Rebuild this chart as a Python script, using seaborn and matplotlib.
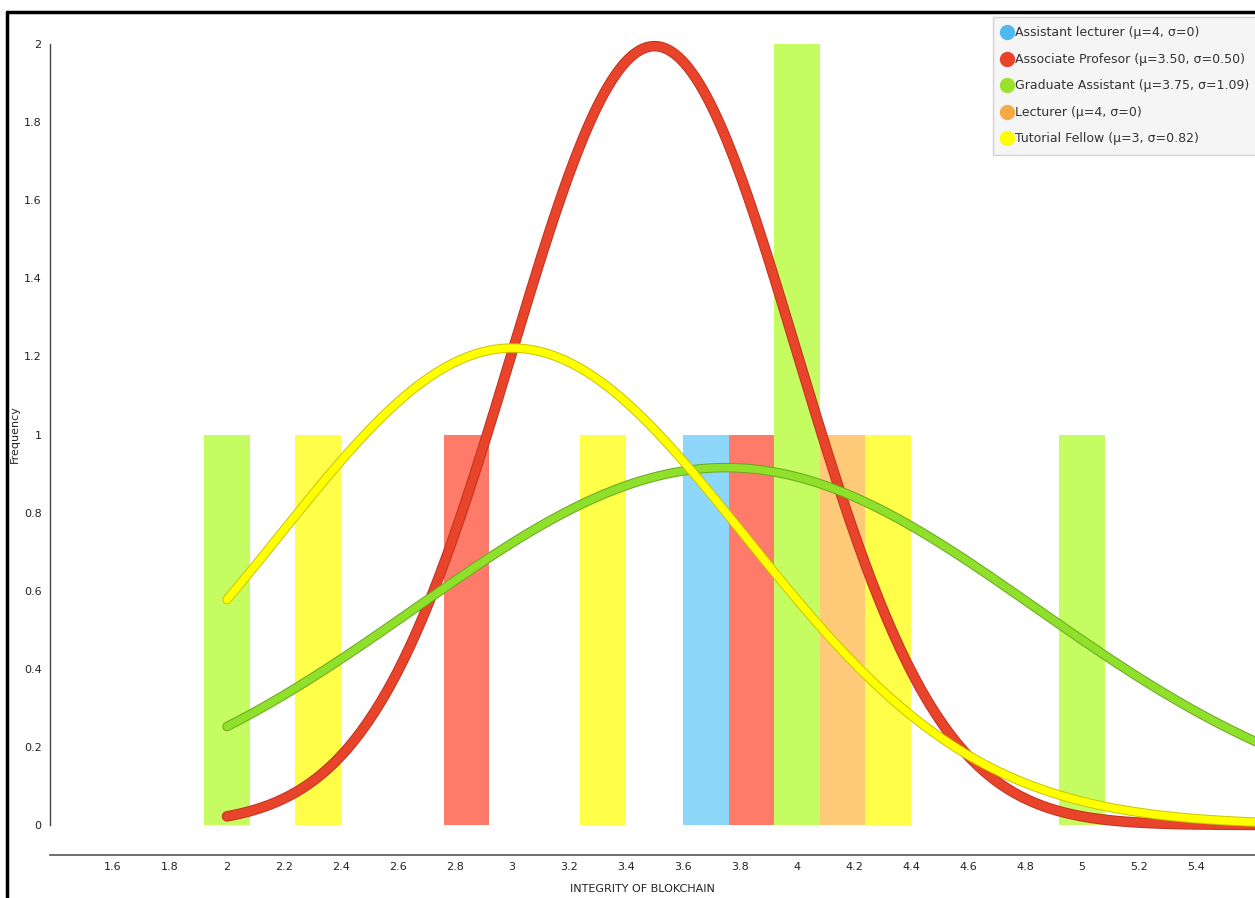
import matplotlib
matplotlib.use("Agg")
import matplotlib.pyplot as plt
import matplotlib.patheffects as pe
from matplotlib.lines import Line2D
import seaborn as sns
import pandas as pd
import numpy as np

# raw scores per group
groups = ["Assistant lecturer", "Associate Profesor", "Graduate Assistant",
          "Lecturer", "Tutorial Fellow"]
assistant_lecturer = [4]
associate_profesor = [3, 4]
graduate_assistant = [2, 4, 4, 5]
lecturer = [4]
tutorial_fellow = [2, 3, 4]
scores = [assistant_lecturer, associate_profesor, graduate_assistant,
          lecturer, tutorial_fellow]

bar_colors = ["#8dd7fb", "#ff7b69", "#c5fc62", "#ffca78", "#ffff4a"]
dot_colors = ["#4db9f3", "#e8432b", "#9ae22e", "#f4aa43", "#ffff00"]
line_colors = {1: ("#e8432b", "#c4311d"), 2: ("#8ee02a", "#6aa61e"),
               4: ("#ffff00", "#c9c400")}
bar_offsets = [-0.32, -0.16, 0.0, 0.16, 0.32]
bar_width = 0.16
curve_scale = 2.5

sns.set_style("white")
plt.rcParams["font.family"] = ["DejaVu Sans"]

fig = plt.figure(figsize=(12.55, 8.98), dpi=100)
W, H = 1255, 898
ax = fig.add_axes([50 / W, (H - 855) / H, (W - 50) / W, (855 - 14) / H])

# bars
rows = []
for i, (g, vals) in enumerate(zip(groups, scores)):
    v, c = np.unique(vals, return_counts=True)
    for vv, cc in zip(v, c):
        rows.append({"group": g, "idx": i, "value": vv, "count": cc})
df = pd.DataFrame(rows)
for _, r in df.iterrows():
    ax.bar(r["value"] + bar_offsets[r["idx"]], r["count"], width=bar_width,
           color=bar_colors[r["idx"]], linewidth=0, zorder=1)

# fitted normal curves (groups with spread)
xs = np.linspace(2, 5.7, 300)
for i in [2, 1, 4]:
    vals = np.array(scores[i], dtype=float)
    mu, sd = vals.mean(), vals.std()
    ys = curve_scale * np.exp(-0.5 * ((xs - mu) / sd) ** 2) / (sd * np.sqrt(2 * np.pi))
    col, edge = line_colors[i]
    lw = 6.2 if i == 1 else 5.4
    sns.lineplot(x=xs, y=ys, ax=ax, color=col, lw=lw, solid_capstyle="round",
                 zorder=3 + i, sort=False,
                 path_effects=[pe.Stroke(linewidth=lw + 1.4, foreground=edge),
                               pe.Normal()])

ax.set_xlim(1.379, 5.607)
ax.set_ylim(-0.0768, 2.077)

xt = np.round(np.arange(1.4, 5.61, 0.2), 1)
ax.set_xticks(xt)
ax.set_xticklabels(["" if t in (1.4, 5.6) else f"{t:g}" for t in xt])
yt = np.round(np.arange(0, 2.01, 0.2), 1)
ax.set_yticks(yt)
ax.set_yticklabels([f"{t:g}" for t in yt])
ax.tick_params(axis="x", direction="in", length=3, width=0.8, color="#777777",
               labelsize=8, labelcolor="#222222", pad=5)
ax.tick_params(axis="y", direction="out", length=3, width=0.8, color="#bbbbbb",
               labelsize=8, labelcolor="#222222", pad=3)
for t, tick in zip(xt, ax.xaxis.get_major_ticks()):
    if t in (2.0, 4.0):
        tick.tick1line.set_markersize(7)
        tick.tick1line.set_color("#222222")

for s in ["top", "right"]:
    ax.spines[s].set_visible(False)
ax.spines["left"].set_bounds(0, 2)
ax.spines["left"].set_color("#444444")
ax.spines["bottom"].set_color("#555555")
ax.spines["left"].set_linewidth(1)
ax.spines["bottom"].set_linewidth(1.2)

ax.set_xlabel("INTEGRITY OF BLOKCHAIN", fontsize=8, color="#222222")
ax.set_ylabel("Frequency", fontsize=8, color="#222222")
ax.xaxis.set_label_coords(0.492, -0.034)
ax.yaxis.set_label_coords(-0.025, 0.5)

handles = []
for i, g in enumerate(groups):
    vals = np.array(scores[i], dtype=float)
    mu, sd = vals.mean(), vals.std()
    if sd == 0:
        lab = f"{g} (\u03bc={mu:g}, \u03c3=0)"
    elif mu == int(mu):
        lab = f"{g} (\u03bc={mu:g}, \u03c3={sd:.2f})"
    else:
        lab = f"{g} (\u03bc={mu:.2f}, \u03c3={sd:.2f})"
    handles.append(Line2D([], [], marker="o", ls="", markersize=10,
                          markerfacecolor=dot_colors[i], markeredgecolor=dot_colors[i],
                          label=lab))
leg = fig.legend(handles=handles, loc="upper left",
                 bbox_to_anchor=(993 / W, 1 - 17 / H), bbox_transform=fig.transFigure,
                 fontsize=9, frameon=True, fancybox=False, handlelength=0.8,
                 handletextpad=0.2, labelspacing=1.08, borderpad=0.75,
                 borderaxespad=0)
leg.get_frame().set_facecolor("#f3f3f3")
leg.get_frame().set_edgecolor("#c8c8c8")
leg.get_frame().set_linewidth(1)
leg.set_zorder(10)
for txt in leg.get_texts():
    txt.set_color("#333333")

# black outer frame (left and top edges visible)
fig.add_artist(Line2D([7 / W, 7 / W], [0, 1 - 12 / H], color="black", lw=2.5,
                      transform=fig.transFigure))
fig.add_artist(Line2D([7 / W, 1], [1 - 12 / H, 1 - 12 / H], color="black", lw=2.5,
                      transform=fig.transFigure))

fig.savefig("out.png", dpi=100)
